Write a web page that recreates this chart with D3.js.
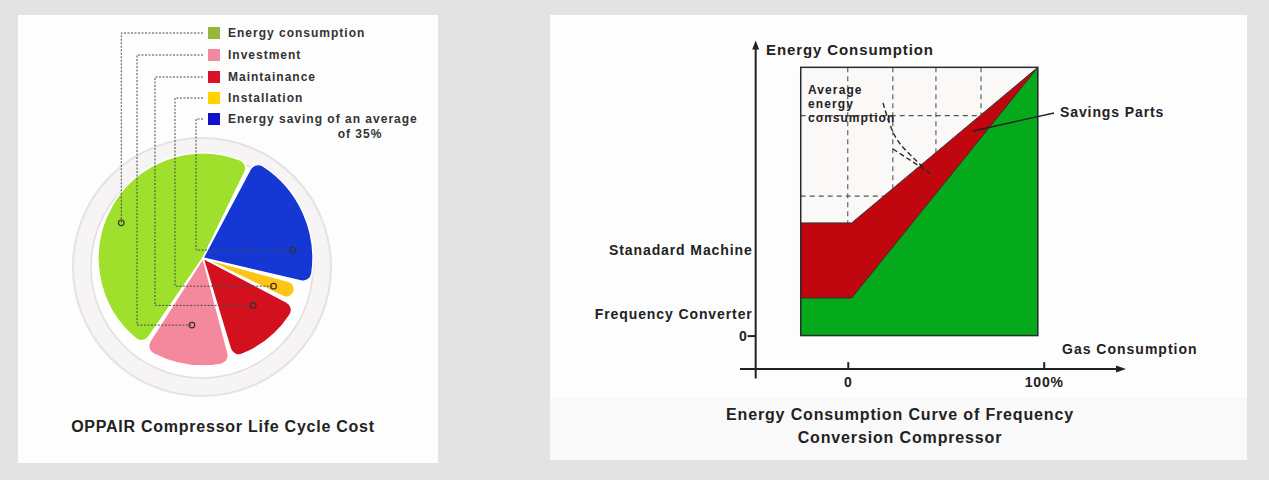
<!DOCTYPE html>
<html>
<head>
<meta charset="utf-8">
<script src="https://cdn.jsdelivr.net/npm/d3@7"></script>
<style>
  body { margin: 0; background: #e3e3e3; }
  svg { display: block; font-family: "Liberation Sans", Arial, sans-serif; }
</style>
</head>
<body>
<div id="chart"></div>
<script>
// left: life cycle cost pie
const costItems = ["Energy consumption", "Investment", "Maintainance", "Installation", "Energy saving of an average"];
const costShares = [49, 13.5, 13, 3, 21.5];

// right: energy consumption curve
const gasLevels = [-24, 2, 97];
const standardMachine = [42, 42, 100];
const frequencyConverter = [14, 14, 100];
const gridX = [0, 23, 45, 68];
const gridY = [52, 82];
const xTicks = [0, 100];
const xTickLabels = ["0", "100%"];
const yLabelValues = [0, 8, 32];
const yLabels = ["0", "Frequency Converter", "Stanadard Machine"];

const W = 1269, H = 480;
const svg = d3.select("#chart").append("svg")
  .attr("width", W).attr("height", H);

// cards
svg.append("rect").attr("x", 18).attr("y", 15).attr("width", 420).attr("height", 448).attr("fill", "#fdfdfd");
svg.append("rect").attr("x", 550).attr("y", 15).attr("width", 697).attr("height", 445).attr("fill", "#fdfdfd");
svg.append("rect").attr("x", 550).attr("y", 398).attr("width", 697).attr("height", 62).attr("fill", "#f9f9f9");

// ---------- pie ----------
const pieColors = ["#9fe02c", "#f4889d", "#d2101e", "#ffc414", "#1537d4"];
const legendColors = ["#93b83c", "#f08aa0", "#dc1028", "#ffd200", "#0f10c8"];
const sliceRadius = [105, 108, 104, 97, 110];
const deg = Math.PI / 180;

const pie = d3.pie().sort(null).value(d => d)
  .startAngle(387 * deg).endAngle(27 * deg).padAngle(0.035);
const arcs = pie(costShares);

const ring = svg.append("g").attr("transform", "translate(202,267)");
ring.append("circle").attr("r", 129).attr("fill", "#f6f4f4").attr("stroke", "#e6e2e2").attr("stroke-width", 2);
ring.append("circle").attr("r", 111).attr("fill", "#fefefe").attr("stroke", "#e2dede").attr("stroke-width", 1.5);

const pg = svg.append("g").attr("transform", "translate(203,258)");
pg.selectAll("path.slice")
  .data(arcs)
  .join("path")
  .attr("class", "slice")
  .attr("d", (d, i) => d3.arc().innerRadius(0).outerRadius(sliceRadius[i]).cornerRadius(9)(d))
  .attr("fill", (d, i) => pieColors[i])
  .attr("stroke", "#fff")
  .attr("stroke-width", 1.5);

// leader lines from legend into slices
const leaderX = [120, 137, 155, 175, 196];
const leaderPos = [[0.46, 89], [0.51, 68], [0.35, 69], [0.6, 76], [0.75, 90]];
const legendY = [33, 55, 77, 98, 119];

// fraction measured clockwise within each slice
const markers = arcs.map((d, i) => {
  const a = d.endAngle + leaderPos[i][0] * (d.startAngle - d.endAngle);
  return [203 + Math.sin(a) * leaderPos[i][1], 258 - Math.cos(a) * leaderPos[i][1]];
});

const lead = svg.append("g").attr("fill", "none").attr("stroke", "#4a4a4a")
  .attr("stroke-width", 1).attr("stroke-dasharray", "2,1.5");
costItems.forEach((c, i) => {
  const m = markers[i];
  const vx = i === 0 ? m[0] : leaderX[i];
  lead.append("path")
    .attr("d", `M203,${legendY[i]}H${vx}V${m[1]}H${m[0]}`);
});
svg.append("g").selectAll("circle")
  .data(markers)
  .join("circle")
  .attr("cx", d => d[0]).attr("cy", d => d[1]).attr("r", 2.8)
  .attr("fill", "none").attr("stroke", "#333").attr("stroke-width", 1.2);

// legend
const lg = svg.append("g");
lg.selectAll("rect")
  .data(costItems)
  .join("rect")
  .attr("x", 208).attr("y", (d, i) => legendY[i] - 6)
  .attr("width", 12).attr("height", 12)
  .attr("fill", (d, i) => legendColors[i]);
lg.selectAll("text")
  .data(costItems)
  .join("text")
  .attr("x", 228).attr("y", (d, i) => legendY[i])
  .attr("dy", "0.35em")
  .style("font-size", "12px").style("font-weight", "bold")
  .style("letter-spacing", "1px").attr("fill", "#333")
  .text(d => d);
lg.append("text")
  .attr("x", 360).attr("y", 134).attr("dy", "0.35em").attr("text-anchor", "middle")
  .style("font-size", "12px").style("font-weight", "bold")
  .style("letter-spacing", "1px").attr("fill", "#333")
  .text("of 35%");

svg.append("text")
  .attr("x", 223).attr("y", 426).attr("dy", "0.35em").attr("text-anchor", "middle")
  .style("font-size", "16px").style("font-weight", "bold").style("letter-spacing", "0.75px")
  .attr("fill", "#222")
  .text("OPPAIR Compressor Life Cycle Cost");

// ---------- energy curve ----------
const x = d3.scaleLinear().domain([-55, 142]).range([740, 1126]);
const y = d3.scaleLinear().domain([-16, 110]).range([378.5, 40.5]);
// standard machine line as a function of gas level, and back
const redAt = d3.scaleLinear().domain(gasLevels).range(standardMachine);
const redX = d3.scaleLinear().domain(standardMachine.slice(1)).range(gasLevels.slice(1));

const cg = svg.append("g");

// plot box background
cg.append("rect")
  .attr("x", x(gasLevels[0])).attr("y", y(100))
  .attr("width", x(gasLevels[2]) - x(gasLevels[0])).attr("height", y(0) - y(100))
  .attr("fill", "#fbf8f8");

// grid, stopping at the standard machine line
const gridStyle = s => s.attr("stroke", "#555").attr("stroke-width", 1.1).attr("stroke-dasharray", "5,4");
cg.selectAll("line.gx")
  .data(gridX)
  .join("line")
  .attr("class", "gx")
  .attr("x1", d => x(d)).attr("x2", d => x(d))
  .attr("y1", y(100)).attr("y2", d => y(redAt(d)))
  .call(gridStyle);
cg.selectAll("line.gy")
  .data(gridY)
  .join("line")
  .attr("class", "gy")
  .attr("x1", x(gasLevels[0])).attr("x2", d => x(redX(d)))
  .attr("y1", d => y(d)).attr("y2", d => y(d))
  .call(gridStyle);

const area = d3.area()
  .x((d, i) => x(gasLevels[i]))
  .y0(y(0))
  .y1(d => y(d));
const line = d3.line().x((d, i) => x(gasLevels[i])).y(d => y(d));

cg.append("path").datum(standardMachine).attr("d", area).attr("fill", "#c0060e");
cg.append("path").datum(frequencyConverter).attr("d", area).attr("fill", "#04aa1c");
cg.append("path").datum(standardMachine).attr("d", line).attr("fill", "none").attr("stroke", "#333").attr("stroke-width", 1);
cg.append("path").datum(frequencyConverter).attr("d", line).attr("fill", "none").attr("stroke", "#333").attr("stroke-width", 1);

cg.append("rect")
  .attr("x", x(gasLevels[0])).attr("y", y(100))
  .attr("width", x(gasLevels[2]) - x(gasLevels[0])).attr("height", y(0) - y(100))
  .attr("fill", "none").attr("stroke", "#2a2a2a").attr("stroke-width", 1.5);

// average energy consumption annotation
const dashStyle = g => g.attr("fill", "none").attr("stroke", "#2a2a2a").attr("stroke-width", 1.4).attr("stroke-dasharray", "5,3");
cg.append("path")
  .attr("d", d3.line().curve(d3.curveBasis)([[883, 103], [893, 136], [905, 150], [923, 167]]))
  .call(dashStyle);
cg.append("path")
  .attr("d", "M893,149L933,175")
  .call(dashStyle);

const avg = cg.append("text")
  .style("font-size", "12px").style("font-weight", "bold").style("letter-spacing", "1.1px")
  .attr("fill", "#222");
["Average", "energy", "consumption"].forEach((t, i) => {
  avg.append("tspan").attr("x", 808).attr("y", 94 + i * 14).text(t);
});

// savings parts label
cg.append("line").attr("x1", 973).attr("y1", 131).attr("x2", 1054).attr("y2", 113)
  .attr("stroke", "#222").attr("stroke-width", 1.3);
cg.append("text").attr("x", 1060).attr("y", 112).attr("dy", "0.35em")
  .style("font-size", "14px").style("font-weight", "bold").style("letter-spacing", "0.9px")
  .attr("fill", "#222").text("Savings Parts");

// axes
const xAxis = d3.axisBottom(x).tickValues(xTicks)
  .tickFormat((d, i) => xTickLabels[i]).tickSizeInner(-7).tickSizeOuter(0).tickPadding(8);
const xg = cg.append("g").attr("transform", `translate(0,${y(-12.5)})`).call(xAxis);
xg.select(".domain").remove();
xg.selectAll("line").attr("stroke", "#222").attr("stroke-width", 2);
xg.selectAll("text").style("font-size", "14px").style("font-weight", "bold")
  .style("letter-spacing", "0.8px").attr("fill", "#222");

const yAxis = d3.axisLeft(y).tickValues(yLabelValues)
  .tickFormat((d, i) => yLabels[i]).tickSizeInner(8).tickSizeOuter(0).tickPadding(0);
const yg = cg.append("g").attr("transform", `translate(${x(-47)},0)`).call(yAxis);
yg.select(".domain").remove();
yg.selectAll("line").attr("stroke", "#222").attr("stroke-width", 2)
  .attr("opacity", d => d === 0 ? 1 : 0);
yg.selectAll("text").style("font-size", "14px").style("font-weight", "bold")
  .style("letter-spacing", "0.9px").attr("fill", "#222");
yg.selectAll(".tick").filter(d => d !== 0).select("text").attr("x", -3);

// axis lines with arrows
const axisPath = cg.append("g").attr("stroke", "#222").attr("stroke-width", 2).attr("fill", "#222");
axisPath.append("line").attr("x1", x(-55)).attr("x2", x(140)).attr("y1", y(-12.5)).attr("y2", y(-12.5));
axisPath.append("path").attr("stroke-width", 0)
  .attr("d", `M${x(142)},${y(-12.5)}l-10,-3.5v7z`);
axisPath.append("line").attr("x1", x(-47)).attr("x2", x(-47)).attr("y1", y(-16)).attr("y2", y(108));
axisPath.append("path").attr("stroke-width", 0)
  .attr("d", `M${x(-47)},${y(110)}l-3.5,9h7z`);

cg.append("text").attr("x", 766).attr("y", 50).attr("dy", "0.35em")
  .style("font-size", "15px").style("font-weight", "bold").style("letter-spacing", "0.9px")
  .attr("fill", "#222").text("Energy Consumption");
cg.append("text").attr("x", 1062).attr("y", 349).attr("dy", "0.35em")
  .style("font-size", "14px").style("font-weight", "bold").style("letter-spacing", "1px")
  .attr("fill", "#222").text("Gas Consumption");

// title
const title = svg.append("text").attr("text-anchor", "middle")
  .style("font-size", "16px").style("font-weight", "bold").style("letter-spacing", "0.85px")
  .attr("fill", "#222");
title.append("tspan").attr("x", 900).attr("y", 420).text("Energy Consumption Curve of Frequency");
title.append("tspan").attr("x", 900).attr("y", 443).text("Conversion Compressor");
</script>
</body>
</html>
